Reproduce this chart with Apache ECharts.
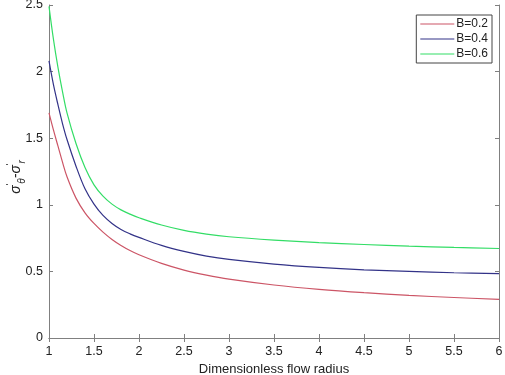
<!DOCTYPE html>
<html>
<head>
<meta charset="utf-8">
<script src="https://cdn.jsdelivr.net/npm/echarts@6/dist/echarts.min.js"></script>
<style>
html, body { margin: 0; padding: 0; background: #fff; }
#main { width: 505px; height: 375px; }
</style>
</head>
<body>
<div id="main"></div>
<script>
// dimensionless flow radius
var radius = [1, 1.05, 1.1, 1.15, 1.2, 1.3, 1.4, 1.5, 1.6, 1.7, 1.8, 1.9, 2, 2.25, 2.5, 2.75, 3, 3.5, 4, 4.5, 5, 5.5, 6];
// sigma_theta' - sigma_r' for each B
var b02 = [1.69, 1.56, 1.44, 1.32, 1.21, 1.05, 0.94, 0.86, 0.795, 0.74, 0.695, 0.657, 0.625, 0.56, 0.51, 0.472, 0.442, 0.398, 0.365, 0.34, 0.32, 0.304, 0.29];
var b04 = [2.08, 1.90, 1.75, 1.61, 1.49, 1.29, 1.12, 1.005, 0.92, 0.86, 0.815, 0.782, 0.755, 0.695, 0.65, 0.615, 0.59, 0.555, 0.53, 0.512, 0.50, 0.49, 0.483];
var b06 = [2.49, 2.24, 2.03, 1.85, 1.69, 1.46, 1.28, 1.15, 1.065, 1.005, 0.962, 0.93, 0.903, 0.848, 0.808, 0.78, 0.76, 0.735, 0.716, 0.702, 0.69, 0.68, 0.672];
var seriesNames = ['B=0.2', 'B=0.4', 'B=0.6'];
var seriesColors = ['#cc5566', '#333388', '#33dd66'];

function pairs(ys) {
	var out = [];
	for (var i = 0; i < radius.length; i++) {
		out.push([radius[i], ys[i]]);
	}
	return out;
}

var chart = echarts.init(document.getElementById('main'));
var axisGray = '#808080';
var lineSeries = [b02, b04, b06].map(function (ys, k) {
	return {
		name: seriesNames[k],
		type: 'line',
		data: pairs(ys),
		smooth: 0.35,
		symbol: 'none',
		lineStyle: { color: seriesColors[k], width: 1.2 },
		itemStyle: { color: seriesColors[k] }
	};
});

var option = {
	animation: false,
	textStyle: { fontFamily: 'Liberation Sans, Arial, sans-serif' },
	grid: { left: 49, right: 6, top: 5, bottom: 37, show: false, outerBoundsMode: 'none', containLabel: false },
	legend: {
		orient: 'vertical',
		right: 13,
		top: 15,
		data: seriesNames,
		icon: 'rect',
		itemWidth: 34,
		itemHeight: 1,
		itemGap: 3,
		padding: [3, 4, 3, 4],
		borderColor: '#444',
		borderWidth: 1,
		backgroundColor: '#fff',
		textStyle: { fontSize: 12, color: '#222', padding: [0, 0, 0, -3] }
	},
	xAxis: [
		{
			type: 'value', min: 1, max: 6, interval: 0.5,
			axisLine: { lineStyle: { color: axisGray } },
			axisTick: { inside: true, length: 4, lineStyle: { color: axisGray } },
			axisLabel: { color: '#222', fontSize: 12.5, margin: 7 },
			splitLine: { show: false },
			name: 'Dimensionless flow radius',
			nameLocation: 'middle',
			nameGap: 22,
			nameTextStyle: { color: '#222', fontSize: 13 }
		},
		{
			type: 'value', min: 1, max: 6, interval: 0.5, position: 'top',
			axisLine: { lineStyle: { color: axisGray } },
			axisTick: { inside: true, length: 4, lineStyle: { color: axisGray } },
			axisLabel: { show: false },
			splitLine: { show: false }
		}
	],
	yAxis: [
		{
			type: 'value', min: 0, max: 2.5, interval: 0.5,
			axisLine: { show: true, lineStyle: { color: axisGray } },
			axisTick: { show: true, inside: true, length: 4, lineStyle: { color: axisGray } },
			axisLabel: { color: '#222', fontSize: 12.5, margin: 6 },
			splitLine: { show: false }
		},
		{
			type: 'value', min: 0, max: 2.5, interval: 0.5, position: 'right',
			axisLine: { show: true, lineStyle: { color: axisGray } },
			axisTick: { show: true, inside: true, length: 4, lineStyle: { color: axisGray } },
			axisLabel: { show: false },
			splitLine: { show: false }
		}
	],
	graphic: [
		{
			type: 'text',
			x: 16,
			y: 177,
			rotation: Math.PI / 2,
			style: {
				text: '{s|σ}{p|\'}{b|θ}{s|-σ}{p|\'}{b|r}',
				align: 'center',
				verticalAlign: 'middle',
				fill: '#222',
				fontFamily: 'Liberation Serif, Times New Roman, serif',
				rich: {
					s: { fontSize: 14, fontStyle: 'italic', fill: '#222', lineHeight: 22, verticalAlign: 'middle' },
					p: { fontSize: 9, fill: '#222', verticalAlign: 'top', lineHeight: 22 },
					b: { fontSize: 10, fontStyle: 'italic', fill: '#222', verticalAlign: 'bottom', lineHeight: 22 }
				}
			}
		}
	],
	series: lineSeries
};

chart.setOption(option);
</script>
</body>
</html>
